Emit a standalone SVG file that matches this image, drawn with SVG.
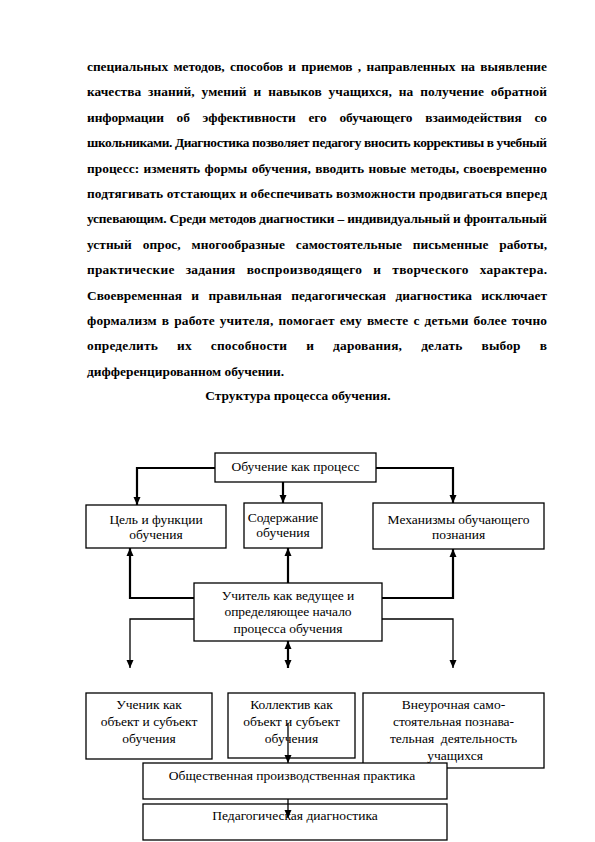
<svg xmlns="http://www.w3.org/2000/svg" width="595" height="842" viewBox="0 0 595 842">
<style>
.p{font-family:"Liberation Serif","Times New Roman",serif;font-weight:bold;font-size:13.4px;fill:#000}
.t{font-family:"Liberation Serif","Times New Roman",serif;font-size:13.5px;fill:#000;text-anchor:middle}
.box{fill:#fff;stroke:#000;stroke-width:1.3}
.thick{fill:none;stroke:#000;stroke-width:2.2}
.thin{fill:none;stroke:#000;stroke-width:1.3}
</style>
<defs>
<marker id="ah" markerUnits="userSpaceOnUse" markerWidth="8" markerHeight="8" refX="8" refY="3.5" orient="auto-start-reverse" viewBox="0 0 8 7">
<path d="M0,0 L8,3.5 L0,7 z" fill="#000"/>
</marker>
</defs>
<rect width="595" height="842" fill="#fff"/>
<g id="paragraph">
<text class="p" x="87" y="71" textLength="460" lengthAdjust="spacing" word-spacing="2">специальных методов, способов и приемов , направленных на выявление</text>
<text class="p" x="87" y="96.4" textLength="460" lengthAdjust="spacing" word-spacing="3.5">качества знаний, умений и навыков учащихся, на получение обратной</text>
<text class="p" x="87" y="121.8" textLength="460" lengthAdjust="spacing" word-spacing="9.5">информации об эффективности его обучающего взаимодействия со</text>
<text class="p" x="87" y="147.2" textLength="460" lengthAdjust="spacing">школьниками. Диагностика позволяет педагогу вносить коррективы в учебный</text>
<text class="p" x="87" y="172.6" textLength="460" lengthAdjust="spacing" word-spacing="1">процесс: изменять формы обучения, вводить новые методы, своевременно</text>
<text class="p" x="87" y="198" textLength="460" lengthAdjust="spacing">подтягивать отстающих и обеспечивать возможности продвигаться вперед</text>
<text class="p" x="87" y="223.4" textLength="460" lengthAdjust="spacing">успевающим. Среди методов диагностики – индивидуальный и фронтальный</text>
<text class="p" x="87" y="248.8" textLength="460" lengthAdjust="spacing" word-spacing="7.5">устный опрос, многообразные самостоятельные письменные работы,</text>
<text class="p" x="87" y="274.2" textLength="460" lengthAdjust="spacing" word-spacing="7.5">практические задания воспроизводящего и творческого характера.</text>
<text class="p" x="87" y="299.6" textLength="460" lengthAdjust="spacing" word-spacing="6">Своевременная и правильная педагогическая диагностика исключает</text>
<text class="p" x="87" y="325" textLength="460" lengthAdjust="spacing" word-spacing="1.5">формализм в работе учителя, помогает ему вместе с детьми более точно</text>
<text class="p" x="87" y="350.4" textLength="460" lengthAdjust="spacing" word-spacing="15.5">определить их способности и дарования, делать выбор в</text>
<text class="p" x="87" y="375.8">дифференцированном обучении.</text>
<text class="p" x="298" y="400" text-anchor="middle">Структура процесса обучения.</text>
</g>
<g id="connectors">
<polyline class="thick" points="215,468 137,468 137,505" marker-end="url(#ah)"/>
<polyline class="thick" points="376,468 453,468 453,503" marker-end="url(#ah)"/>
<line class="thick" x1="283" y1="482" x2="283" y2="503" marker-end="url(#ah)"/>
<polyline class="thick" points="194,598 130,598 130,548" marker-end="url(#ah)"/>
<line class="thick" x1="288" y1="583" x2="288" y2="548" marker-end="url(#ah)"/>
<polyline class="thick" points="382,598 453,598 453,549" marker-end="url(#ah)"/>
<polyline class="thin" points="194,619 130,619 130,668" marker-end="url(#ah)"/>
<polyline class="thin" points="382,619 453,619 453,668" marker-end="url(#ah)"/>
<line class="thick" x1="288" y1="641" x2="288" y2="668" marker-start="url(#ah)" marker-end="url(#ah)"/>
</g>
<g id="n-process"><rect class="box" x="215" y="453" width="161" height="29"/><text class="t" x="295.5" y="471">Обучение как процесс</text></g>
<g id="n-goal"><rect class="box" x="86" y="505" width="140" height="43"/><text class="t" x="156" y="524">Цель и функции</text><text class="t" x="156" y="539">обучения</text></g>
<g id="n-content"><rect class="box" x="244" y="503" width="78" height="45"/><text class="t" x="283" y="522">Содержание</text><text class="t" x="283" y="537">обучения</text></g>
<g id="n-mech"><rect class="box" x="373" y="503" width="171" height="46"/><text class="t" x="458.5" y="524">Механизмы обучающего</text><text class="t" x="458.5" y="539">познания</text></g>
<g id="n-teacher"><rect class="box" x="194" y="583" width="188" height="58"/><text class="t" x="288" y="600">Учитель как ведущее и</text><text class="t" x="288" y="616">определяющее начало</text><text class="t" x="288" y="633">процесса обучения</text></g>
<g id="n-pupil"><rect class="box" x="86" y="693" width="126" height="66"/><text class="t" x="149" y="709">Ученик как</text><text class="t" x="149" y="726">объект и субъект</text><text class="t" x="149" y="743">обучения</text></g>
<g id="n-collective"><rect class="box" x="228" y="693" width="127" height="65"/><text class="t" x="291.5" y="709">Коллектив как</text><text class="t" x="291.5" y="726">объект и субъект</text><text class="t" x="291.5" y="743">обучения</text></g>
<g id="n-extra"><rect class="box" x="363" y="693" width="181" height="75"/><text class="t" x="453.5" y="709">Внеурочная само-</text><text class="t" x="453.5" y="726">стоятельная познава-</text><text class="t" x="453.5" y="743" xml:space="preserve">тельная  деятельность</text><text class="t" x="455" y="760">учащихся</text></g>
<g id="n-practice"><rect class="box" x="143" y="763" width="304" height="36"/><text class="t" x="292" y="780">Общественная производственная практика</text></g>
<g id="n-diag"><rect class="box" x="143" y="804" width="304" height="36"/><text class="t" x="295" y="820">Педагогическая диагностика</text></g>
<g id="connectors-lower">
<line class="thin" x1="288" y1="723" x2="288" y2="763" marker-end="url(#ah)"/>
<line class="thin" x1="288" y1="799" x2="288" y2="818" marker-end="url(#ah)"/>
</g>
</svg>
